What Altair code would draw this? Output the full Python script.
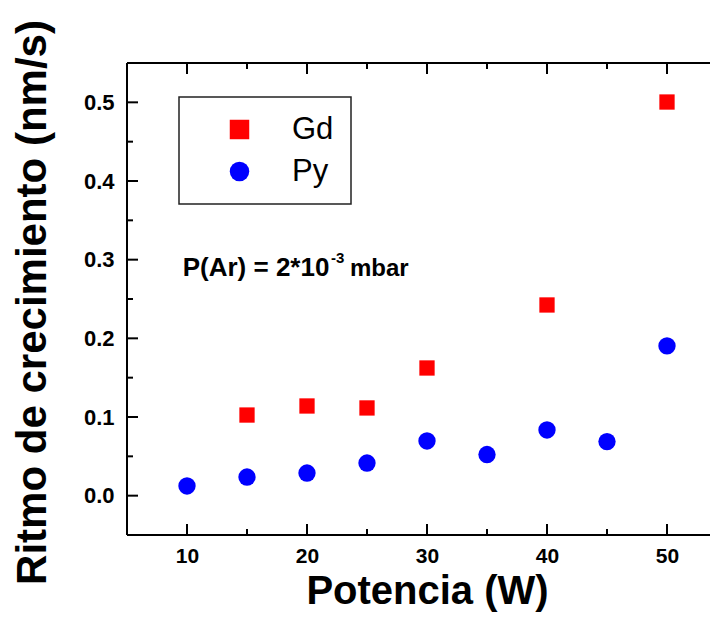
import altair as alt
import pandas as pd

# ---- data ----
gd_power = [15, 20, 25, 30, 40, 50]
gd_rate = [0.1025, 0.114, 0.1115, 0.1623, 0.2424, 0.5004]
py_power = [10, 15, 20, 25, 30, 35, 40, 45, 50]
py_rate = [0.0123, 0.0237, 0.0288, 0.0415, 0.0695, 0.0523, 0.0835, 0.0688, 0.1903]

series_names = ["Gd", "Py"]
series_colors = ["#ff0000", "#0000ff"]
series_shapes = ["square", "circle"]

x_domain = [5, 55]
y_domain = [-0.05, 0.55]
x_major = [10, 20, 30, 40, 50]
x_minor = [15, 25, 35, 45]
y_major = [0.0, 0.1, 0.2, 0.3, 0.4, 0.5]
y_minor = [0.05, 0.15, 0.25, 0.35, 0.45]

x_title = "Potencia (W)"
y_title = "Ritmo de crecimiento (nm/s)"
note_main = ["P(Ar) = 2*10"]
note_sup = ["-3"]
note_unit = ["mbar"]

FONT = "Liberation Sans"
W, H = 583, 472
XR = 600  # full x range (frame right edge lies past the page edge)

pts = pd.concat([
    pd.DataFrame({"x": gd_power, "y": gd_rate, "series": series_names[0]}),
    pd.DataFrame({"x": py_power, "y": py_rate, "series": series_names[1]}),
])

xs = alt.Scale(domain=x_domain, range=[0, XR], nice=False, zero=False)
ys = alt.Scale(domain=y_domain, nice=False, zero=False)

x_axis = alt.Axis(
    values=x_major, format="d", labelFontSize=21, labelFontWeight="bold",
    labelFont=FONT, labelColor="black", labelPadding=10,
    ticks=False, tickSize=0, domain=False, grid=False,
    title=x_title, titleFontSize=40, titleFontWeight="bold", titleFont=FONT,
    titleColor="black", titleY=68, titleBaseline="alphabetic")
y_axis = alt.Axis(
    values=y_major, format=".1f", labelFontSize=22, labelFontWeight="bold",
    labelFont=FONT, labelColor="black", labelPadding=13,
    ticks=False, tickSize=0, domain=False, grid=False,
    title=y_title, titleFontSize=42, titleFontWeight="bold", titleFont=FONT,
    titleColor="black", titleAngle=270, titleX=-82, titleY=239,
    titleAlign="center", titleBaseline="alphabetic")


def X(field="x"):
    return alt.X(f"{field}:Q", scale=xs, axis=x_axis)


def Y(field="y"):
    return alt.Y(f"{field}:Q", scale=ys, axis=y_axis)


leg = alt.Legend(
    title=None, orient="none", legendX=52, legendY=34,
    padding=17, strokeColor="#222222",
    symbolSize=380, symbolOffset=28, labelOffset=37, rowPadding=10,
    labelFontSize=31, labelFont=FONT, labelColor="black", symbolStrokeWidth=0,
)

points = alt.Chart(pts).mark_point(filled=True, opacity=1).encode(
    x=X(), y=Y(),
    color=alt.Color("series:N", scale=alt.Scale(domain=series_names, range=series_colors), legend=leg),
    shape=alt.Shape("series:N", scale=alt.Scale(domain=series_names, range=series_shapes), legend=leg),
    size=alt.condition(alt.datum.series == series_names[0], alt.value(234), alt.value(300)),
)

frame_df = pd.DataFrame({
    "x": [x_domain[0], x_domain[0], x_domain[0], x_domain[1]],
    "x2": [x_domain[0], x_domain[1], x_domain[1], x_domain[1]],
    "y": [y_domain[0], y_domain[0], y_domain[1], y_domain[0]],
    "y2": [y_domain[1], y_domain[0], y_domain[1], y_domain[1]],
})
frame = alt.Chart(frame_df).mark_rule(color="black", strokeWidth=2).encode(
    x=X(), x2="x2:Q", y=Y(), y2="y2:Q",
)


def xticks(vals, length):
    df = pd.DataFrame({"x": vals})
    bottom = alt.Chart(df).mark_rule(color="black", strokeWidth=2).encode(
        x=X(), y=alt.value(H), y2=alt.value(H - length))
    top = alt.Chart(df).mark_rule(color="black", strokeWidth=2).encode(
        x=X(), y=alt.value(0), y2=alt.value(length))
    return [bottom, top]


def yticks(vals, length):
    df = pd.DataFrame({"y": vals})
    left = alt.Chart(df).mark_rule(color="black", strokeWidth=2).encode(
        y=Y(), x=alt.value(0), x2=alt.value(length))
    right = alt.Chart(df).mark_rule(color="black", strokeWidth=2).encode(
        y=Y(), x=alt.value(XR), x2=alt.value(XR - length))
    return [left, right]


ticks = xticks(x_major, 11) + xticks(x_minor, 6) + yticks(y_major, 11) + yticks(y_minor, 6)

t_main = alt.Chart(pd.DataFrame({"t": note_main})).mark_text(
    font=FONT, fontSize=26, fontWeight="bold", color="black", align="left", baseline="alphabetic"
).encode(text="t:N", x=alt.value(55.7), y=alt.value(213))
t_sup = alt.Chart(pd.DataFrame({"t": note_sup})).mark_text(
    font=FONT, fontSize=15, fontWeight="bold", color="black", align="left", baseline="alphabetic"
).encode(text="t:N", x=alt.value(204), y=alt.value(200))
t_unit = alt.Chart(pd.DataFrame({"t": note_unit})).mark_text(
    font=FONT, fontSize=24, fontWeight="bold", color="black", align="left", baseline="alphabetic"
).encode(text="t:N", x=alt.value(223), y=alt.value(213))

chart = alt.layer(points, frame, *ticks, t_main, t_sup, t_unit).properties(
    width=W, height=H,
    autosize=alt.AutoSizeParams(type="none"),
    padding={"left": 119, "top": 55, "right": 0, "bottom": 77},
).configure_view(strokeOpacity=0).configure_legend(strokeWidth=1.5, cornerRadius=0)

chart.save("out.html", embed_options={"renderer": "svg", "actions": False})
